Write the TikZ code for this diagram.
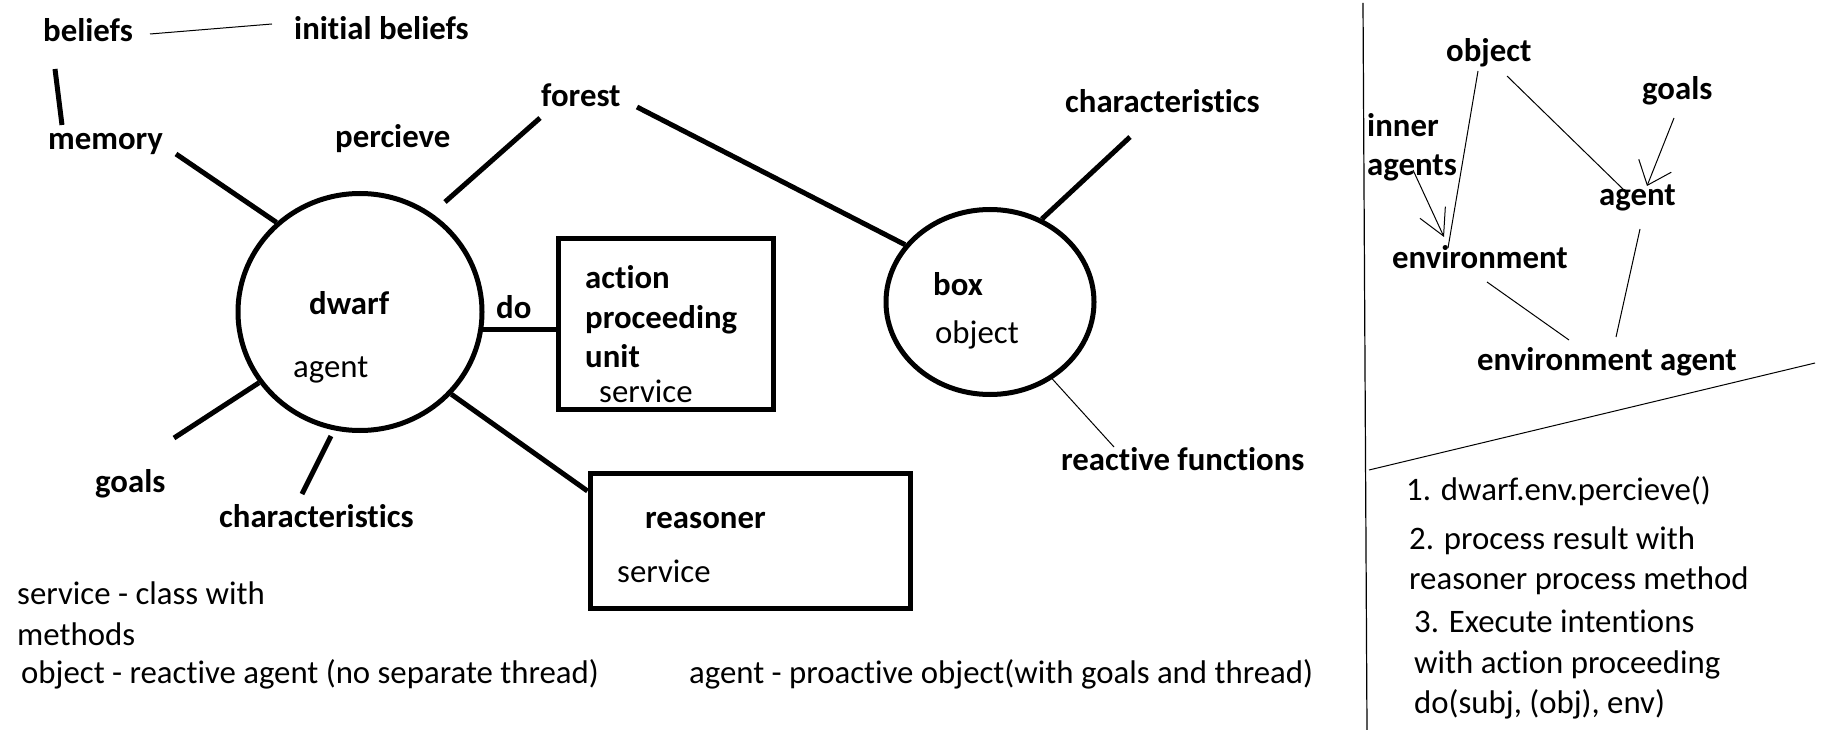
\documentclass[tikz,border=0pt]{standalone}
\usepackage{fontspec}
\setmainfont{Carlito}[Ligatures=NoCommon]
\usetikzlibrary{arrows.meta,shapes.geometric}
\begin{document}
\begin{tikzpicture}[x=1pt,y=-1pt,
  lbl/.style={font=\fontsize{32.8}{38}\selectfont\bfseries, inner sep=0pt, anchor=base west},
  txt/.style={font=\fontsize{32.8}{38}\selectfont, inner sep=0pt, anchor=base west},
  heavy/.style={line width=5pt},
  fine/.style={line width=1pt},
  ent/.style={ellipse, draw, line width=5pt, inner sep=0pt},
  unitbox/.style={rectangle, draw, line width=5pt, inner sep=0pt},
  barbA/.style={fine,-{Straight Barb[length=21pt,width=35pt]}},
  barbB/.style={fine,-{Straight Barb[length=26pt,width=28pt]}}
]
\useasboundingbox[fill=white] (0,0) rectangle (1823,730);

% ---------- left cluster ----------
\node[lbl] (beliefs) at (43,42) {beliefs};
\node[lbl] (initb) at (294,40) {initial beliefs};
\node[lbl] (memory) at (48,150) {memory};
\node[lbl] (percieve) at (335,148) {percieve};
\node[lbl] (forest) at (541,107) {forest};
\node[lbl] (goals) at (95,492) {goals};
\node[lbl] (charL) at (219,527) {characteristics};

\node[ent, minimum width=244pt, minimum height=237pt] (dwarf) at (360,312) {};
\node[lbl] (dwarfname) at (309,314) {dwarf};
\node[txt] (dwarftype) at (293,377) {agent};
\node[lbl] (do) at (496,318) {do};

\node[unitbox, minimum width=215pt, minimum height=171pt] (apu) at (666,324) {};
\node[lbl] (apu1) at (585,288) {action};
\node[lbl] (apu2) at (585,328) {proceeding};
\node[lbl] (apu3) at (585,367) {unit};
\node[txt] (apu4) at (599,402) {service};

\node[unitbox, minimum width=320pt, minimum height=135pt] (reasoner) at (750,541) {};
\node[lbl] (reasname) at (645,528) {reasoner};
\node[txt] (reastype) at (617,582) {service};

\node[ent, minimum width=208pt, minimum height=185pt] (box) at (990,302) {};
\node[lbl] (boxname) at (933,295) {box};
\node[txt] (boxtype) at (935,343) {object};
\node[lbl] (charR) at (1065,113) {characteristics};
\node[lbl] (react) at (1061,470) {reactive functions};

% free ends of connectors
\coordinate (beliefsR) at (150,34);
\coordinate (initbL) at (272,24);
\coordinate (beliefsB) at (55,69);
\coordinate (memoryT) at (62,125);
\coordinate (memoryR) at (176,154);
\coordinate (forestL) at (540,118);
\coordinate (dwarfF) at (445,202);
\coordinate (goalsT) at (174,438);
\coordinate (charLT) at (302,494);
\coordinate (charLB) at (331,436);
\coordinate (forestR) at (637,107);
\coordinate (charRB) at (1130,137);
\coordinate (reactT) at (1114,447);

\draw[fine] (beliefsR) -- (initbL);
\draw[heavy] (beliefsB) -- (memoryT);
\draw[heavy] (memoryR) -- (dwarf.133);
\draw[heavy] (forestL) -- (dwarfF);
\draw[heavy] (dwarf.-8) -- (dwarf.-8 -| apu.west);
\draw[heavy] (dwarf.-42) -- ([yshift=-20pt]reasoner.north west);
\draw[heavy] (dwarf.-145) -- (goalsT);
\draw[heavy] (charLB) -- (charLT);
\draw[heavy] (forestR) -- (box.146);
\draw[heavy] (charRB) -- (box.58);
\draw[fine] (box.-51) -- (reactT);

% ---------- right panel ----------
\draw[line width=1.2pt] (1363,3) -- (1367,730);
\draw[fine] (1369,470) -- (1815,363);

\node[lbl] (objR) at (1446,62) {object};
\node[lbl] (goalsR) at (1642,100) {goals};
\node[lbl] (inner) at (1367,137) {inner};
\node[lbl] (agents) at (1367,176) {agents};
\node[lbl] (agentR) at (1599,206) {agent};
\node[lbl] (env) at (1392,269) {environment};
\node[lbl] (envag) at (1477,370) {environment agent};

\coordinate (objRa) at (1478,71);
\coordinate (envT) at (1448,248);
\coordinate (objRb) at (1507,76);
\coordinate (agentTL) at (1627,193);
\coordinate (goalsB) at (1674,118);
\coordinate (agentTip) at (1647,186);
\coordinate (agentsB) at (1413,170);
\coordinate (envTip) at (1444,237);
\coordinate (envB) at (1487,282);
\coordinate (envagL) at (1569,340);
\coordinate (agentB) at (1640,229);
\coordinate (envagR) at (1616,337);

\draw[fine] (objRa) -- (envT);
\draw[fine] (objRb) -- (agentTL);
\draw[barbA] (goalsB) -- (agentTip);
\draw[barbB] (agentsB) -- (envTip);
\draw[fine] (envB) -- (envagL);
\draw[fine] (agentB) -- (envagR);

\node[txt] (step1) at (1406,500) {1. dwarf.env.percieve()};
\node[txt] (step2a) at (1409,549) {2. process result with};
\node[txt] (step2b) at (1409,589) {reasoner process method};
\node[txt] (step3a) at (1414,632) {3. Execute intentions};
\node[txt] (step3b) at (1414,673) {with action proceeding};
\node[txt] (step3c) at (1414,713) {do(subj, (obj), env)};

% ---------- notes ----------
\node[txt] (note1) at (17,604) {service - class with};
\node[txt] (note2) at (17,645) {methods};
\node[txt] (note3) at (21,683) {object - reactive agent (no separate thread)};
\node[txt] (note4) at (689,683) {agent - proactive object(with goals and thread)};
\end{tikzpicture}
\end{document}
